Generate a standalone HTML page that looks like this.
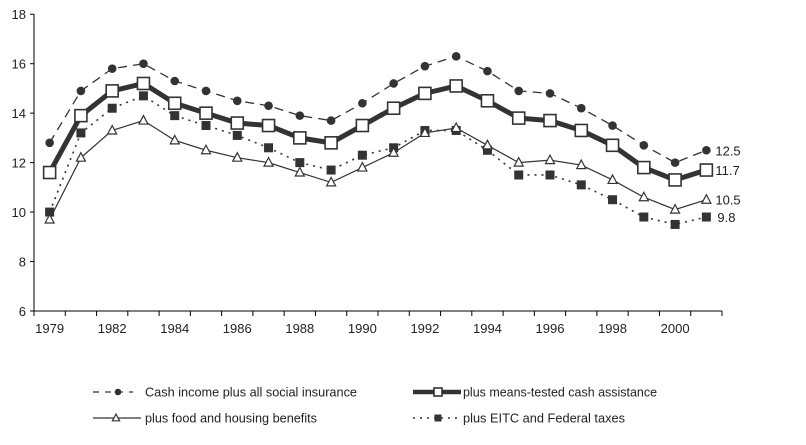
<!DOCTYPE html>
<html><head><meta charset="utf-8"><style>
body{margin:0;background:#fff;}
svg{display:block;font-family:"Liberation Sans",Arial,sans-serif;}
</style></head><body>
<svg id="c" width="806" height="445" xmlns="http://www.w3.org/2000/svg"></svg>
<script>
const s=document.getElementById('c');
const X0=34,X1=722,N=22,dx=(X1-X0)/N;
const yv=v=>311-(v-6)*24.73;
const px=i=>X0+dx*(i+0.5);
let h='';
h+=`<line x1="${X0}" y1="14" x2="${X0}" y2="311" stroke="#000"/>`;
h+=`<line x1="${X0}" y1="311" x2="${X1}" y2="311" stroke="#000"/>`;
for(let v=6;v<=18;v+=2){const y=yv(v);h+=`<line x1="${X0-4}" y1="${y}" x2="${X0}" y2="${y}" stroke="#000"/><text x="${X0-8}" y="${y+5}" font-size="13" text-anchor="end" fill="#222">${v}</text>`;}
for(let i=0;i<=N;i++){const x=X0+dx*i;h+=`<line x1="${x}" y1="311" x2="${x}" y2="316" stroke="#000"/>`;}
const labs=['1979','1982','1984','1986','1988','1990','1992','1994','1996','1998','2000'];
labs.forEach((l,k)=>{h+=`<text x="${px(2*k)}" y="333" font-size="13" text-anchor="middle" fill="#222">${l}</text>`;});
const A=[12.8,14.9,15.8,16.0,15.3,14.9,14.5,14.3,13.9,13.7,14.4,15.2,15.9,16.3,15.7,14.9,14.8,14.2,13.5,12.7,12.0,12.5];
const B=[11.6,13.9,14.9,15.2,14.4,14.0,13.6,13.5,13.0,12.8,13.5,14.2,14.8,15.1,14.5,13.8,13.7,13.3,12.7,11.8,11.3,11.7];
const C=[9.7,12.2,13.3,13.7,12.9,12.5,12.2,12.0,11.6,11.2,11.8,12.4,13.2,13.4,12.7,12.0,12.1,11.9,11.3,10.6,10.1,10.5];
const D=[10.0,13.2,14.2,14.7,13.9,13.5,13.1,12.6,12.0,11.7,12.3,12.6,13.3,13.3,12.5,11.5,11.5,11.1,10.5,9.8,9.5,9.8];
const pl=(d,st)=>`<polyline fill="none" points="${d.map((v,i)=>px(i)+','+yv(v)).join(' ')}" ${st}/>`;
const circ=(x,y,r=4.3)=>`<circle cx="${x}" cy="${y}" r="${r}" fill="#333"/>`;
const sq=(x,y,a=6)=>`<rect x="${x-a}" y="${y-a}" width="${2*a}" height="${2*a}" fill="#fff" stroke="#333" stroke-width="1.6"/>`;
const tri=(x,y,a=1)=>`<polygon points="${x},${y-5*a} ${x-4.5*a},${y+3.5*a} ${x+4.5*a},${y+3.5*a}" fill="#fff" stroke="#333" stroke-width="1.2"/>`;
const fsq=(x,y,a=4.5)=>`<rect x="${x-a}" y="${y-a}" width="${2*a}" height="${2*a}" fill="#333"/>`;
h+=pl(D,'stroke="#333" stroke-width="1.6" stroke-dasharray="2,5"');
h+=pl(C,'stroke="#333" stroke-width="1.2"');
h+=pl(A,'stroke="#333" stroke-width="1.3" stroke-dasharray="9,6"');
h+=pl(B,'stroke="#333" stroke-width="5"');
D.forEach((v,i)=>h+=fsq(px(i),yv(v)));
C.forEach((v,i)=>h+=tri(px(i),yv(v)));
A.forEach((v,i)=>h+=circ(px(i),yv(v)));
B.forEach((v,i)=>h+=sq(px(i),yv(v)));
const lx=px(21)+9;
[[12.5,A],[11.7,B],[10.5,C],[9.8,D]].forEach(([v])=>{h+=`<text x="${lx+(v==9.8?2:0)}" y="${yv(v)+5}" font-size="13" fill="#222">${v}</text>`;});
// legend
const fs='font-size="12.5" fill="#222" textLength="LEN" lengthAdjust="spacingAndGlyphs"';
h+=`<line x1="93" y1="392" x2="133" y2="392" stroke="#333" stroke-width="1.3" stroke-dasharray="6,6"/>`+circ(118,392,3.3);
h+=`<text x="145" y="396.5" ${fs.replace('LEN',212)}>Cash income plus all social insurance</text>`;
h+=`<line x1="413" y1="392" x2="461" y2="392" stroke="#333" stroke-width="4.5"/>`+sq(438,392,4);
h+=`<text x="463" y="396.5" ${fs.replace('LEN',194)}>plus means-tested cash assistance</text>`;
h+=`<line x1="93" y1="418" x2="141" y2="418" stroke="#333" stroke-width="1.2"/>`+tri(116,418,0.8);
h+=`<text x="145" y="422.5" ${fs.replace('LEN',172)}>plus food and housing benefits</text>`;
h+=`<line x1="413" y1="418" x2="461" y2="418" stroke="#333" stroke-width="1.6" stroke-dasharray="2,5"/>`+fsq(438,418,3.5);
h+=`<text x="463" y="422.5" ${fs.replace('LEN',162)}>plus EITC and Federal taxes</text>`;
s.innerHTML=h;
</script>
</body></html>
